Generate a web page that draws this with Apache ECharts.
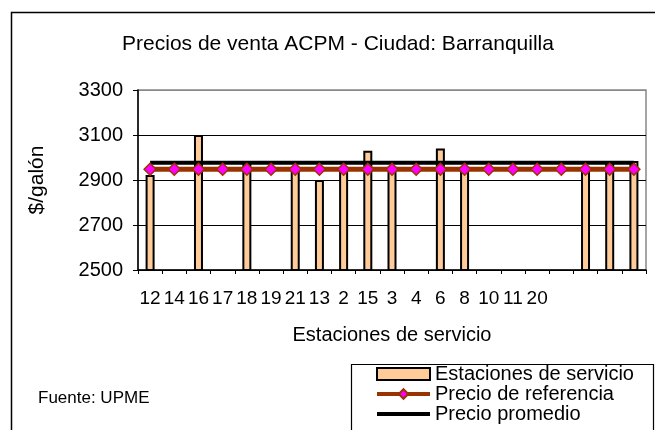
<!DOCTYPE html>
<html>
<head>
<meta charset="utf-8">
<script src="https://cdn.jsdelivr.net/npm/echarts@6/dist/echarts.min.js"></script>
<style>html,body{margin:0;padding:0;background:#fff}#c{width:655px;height:430px}</style>
</head>
<body>
<div id="c"></div>
<script>
const categories = ["12","14","16","17","18","19","21","13","2","15","3","4","6","8","10","11","20"," ","  ","   ","    "];
const stationPrices = [2922,null,3100,null,2985,null,2950,2900,2950,3030,2950,null,3040,2950,null,null,null,null,2950,2985,2985];
const referencePrice = [2948,2948,2948,2948,2948,2948,2948,2948,2948,2948,2948,2948,2948,2948,2948,2948,2948,2948,2948,2948,2948];
const averagePrice = [2977,2977,2977,2977,2977,2977,2977,2977,2977,2977,2977,2977,2977,2977,2977,2977,2977,2977,2977,2977,2977];
const yTicks = {min: 2500, max: 3300, interval: 200};

const FONT = "Liberation Sans, Arial, sans-serif";
const chart = echarts.init(document.getElementById('c'), null, {renderer: 'canvas'});
chart.setOption({
  animation: false,
  backgroundColor: '#fff',
  title: {
    text: 'Precios de venta ACPM - Ciudad: Barranquilla',
    left: 338, top: 34, textAlign: 'center', padding: 0,
    textStyle: {fontFamily: FONT, fontSize: 21, fontWeight: 'normal', color: '#000'}
  },
  grid: {left: 138, right: 9, top: 90, bottom: 160, show: true, borderColor: '#888', borderWidth: 1.5},
  legend: {
    orient: 'vertical', left: 375, top: 364, padding: 0, itemWidth: 53, itemHeight: 12, itemGap: 0,
    textStyle: {fontFamily: FONT, fontSize: 20, color: '#000', lineHeight: 19},
    data: [
      {name: 'Estaciones de servicio', icon: 'rect'},
      {name: 'Precio de referencia', lineStyle: {width: 4}},
      {name: 'Precio promedio', icon: 'path://M0,0H53V4H0Z'}
    ]
  },
  xAxis: {
    type: 'category', data: categories,
    name: 'Estaciones de servicio', nameLocation: 'middle', nameGap: 55,
    nameTextStyle: {fontFamily: FONT, fontSize: 20, color: '#000'},
    axisLine: {lineStyle: {color: '#000', width: 1.5}},
    axisTick: {show: true, alignWithLabel: false, length: 4, lineStyle: {color: '#000'}},
    axisLabel: {interval: 0, margin: 19, fontFamily: FONT, fontSize: 19, color: '#000'}
  },
  yAxis: {
    type: 'value', min: yTicks.min, max: yTicks.max, interval: yTicks.interval,
    name: '$/galón', nameLocation: 'middle', nameGap: 90, nameRotate: 90,
    nameTextStyle: {fontFamily: FONT, fontSize: 21, color: '#000'},
    axisLine: {show: true, lineStyle: {color: '#000', width: 1.5}},
    axisTick: {show: true, length: 5, lineStyle: {color: '#000'}},
    axisLabel: {margin: 15, fontFamily: FONT, fontSize: 20, color: '#000', formatter: v => String(v)},
    splitLine: {show: true, lineStyle: {color: ['#000','#000','#000','#000','#888'], width: 1}}
  },
  series: [
    {
      name: 'Estaciones de servicio', type: 'bar', data: stationPrices, barWidth: 9,
      itemStyle: {color: '#FFCC99', borderColor: '#000', borderWidth: 2}
    },
    {
      name: 'Precio promedio', type: 'line', data: averagePrice, symbol: 'none',
      lineStyle: {color: '#000', width: 4}, itemStyle: {color: '#000'}
    },
    {
      name: 'Precio de referencia', type: 'line', data: referencePrice,
      symbol: 'diamond', symbolSize: 12, showSymbol: true,
      lineStyle: {color: '#993300', width: 5},
      itemStyle: {color: '#FF00FF', borderColor: '#993300', borderWidth: 1.5}
    }
  ],
  graphic: [
    {type: 'rect', left: 9, top: 10, shape: {width: 660, height: 440}, style: {fill: 'none', stroke: '#000', lineWidth: 1.5}, silent: true},
    {type: 'rect', left: 349, top: 362, shape: {width: 302, height: 66}, style: {fill: 'none', stroke: '#000', lineWidth: 1.2}, silent: true, z: -1},
    {type: 'text', left: 38, top: 390, style: {text: 'Fuente: UPME', font: '17px ' + FONT, fill: '#000'}}
  ]
});
</script>
</body>
</html>
